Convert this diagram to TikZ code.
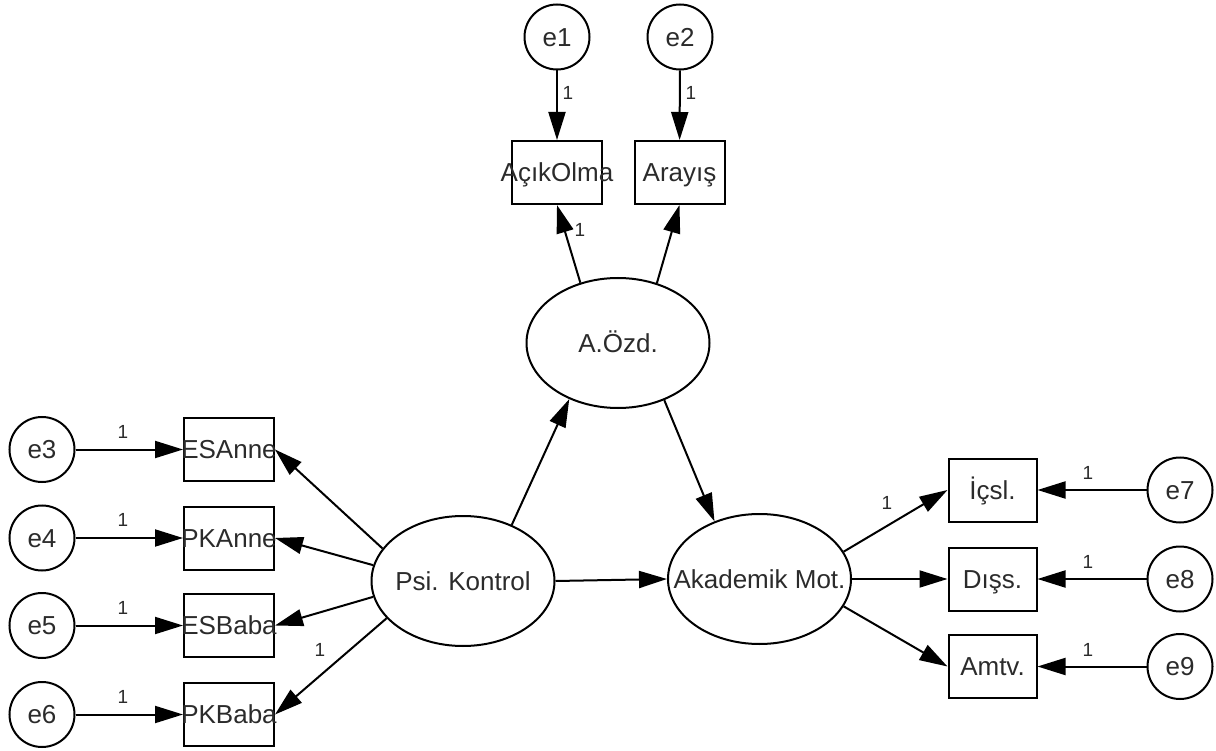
\documentclass[tikz,border=0pt]{standalone}
\usepackage{fontspec}
\setmainfont{Liberation Sans}
\usetikzlibrary{arrows.meta,shapes.geometric}
\definecolor{ink}{HTML}{2B2B2B}
% text that does not widen its node
\newcommand\nowd[1]{\makebox[0pt]{#1}}
\begin{document}
\begin{tikzpicture}[x=1pt,y=-1pt,
  txt/.style={text=ink, font=\fontsize{26}{30}\selectfont, text height=18.6pt, text depth=0pt, inner sep=0pt},
  obs/.style={txt, draw, line width=2pt, minimum width=90pt, minimum height=63pt},
  lat/.style={txt, draw, ellipse, line width=2pt, minimum width=183pt, minimum height=130pt},
  err/.style={txt, draw, circle, line width=2pt, minimum size=65pt},
  link/.style={line width=2pt, -{Triangle[length=28pt,width=17pt]}},
  lbl/.style={text=ink, font=\fontsize{19}{21}\selectfont, inner sep=0pt}
]
\useasboundingbox (0,0) rectangle (1216,751);

% latent variables
\node[lat] (aozd) at (618,343) {\nowd{A.Özd.}};
\node[lat] (psi)  at (463,581) {\nowd{Psi. Kontrol}};
\node[lat] (akad) at (759.5,579) {\nowd{Akademik Mot.}};

% indicators of A.Özd.
\node[obs] (aco) at (557,172.5) {\nowd{AçıkOlma}};
\node[obs] (ara) at (679.5,172.5) {\nowd{Arayış}};
\node[err] (e1) at (557,37) {e1};
\node[err] (e2) at (680,37) {e2};

% indicators of Psi. Kontrol
\node[obs] (esanne) at (229,449.5) {\nowd{ESAnne}};
\node[obs] (pkanne) at (229,538)   {\nowd{PKAnne}};
\node[obs] (esbaba) at (229,625.5) {\nowd{ESBaba}};
\node[obs] (pkbaba) at (229,714.5) {\nowd{PKBaba}};
\node[err] (e3) at (42,449.5) {e3};
\node[err] (e4) at (42,538)   {e4};
\node[err] (e5) at (42,625.5) {e5};
\node[err] (e6) at (42,714.5) {e6};

% indicators of Akademik Mot.
\node[obs, minimum width=88pt] (icsl) at (992.5,490)   {\nowd{İçsl.}};
\node[obs, minimum width=88pt] (diss) at (992.5,579)   {\nowd{Dışs.}};
\node[obs, minimum width=88pt] (amtv) at (992.5,666.5) {\nowd{Amtv.}};
\node[err] (e7) at (1180,490)   {e7};
\node[err] (e8) at (1180,579)   {e8};
\node[err] (e9) at (1180,666.5) {e9};

% structural paths
\draw[link] (psi.49) -- (aozd.229);
\draw[link] (aozd.309.5) -- (akad.128);
\draw[link] (psi.east) -- (akad.west);

% loadings
\draw[link] (aozd.122.8) -- (aco.south);
\draw[link] (aozd.57) -- (ara.south);
\draw[link] (psi.158.8) -- (esanne.east);
\draw[link] (psi.170.5) -- (pkanne.east);
\draw[link] (psi.190) -- (esbaba.east);
\draw[link] (psi.206) -- (pkbaba.east);
\draw[link] (akad.18) -- (icsl.west);
\draw[link] (akad.east) -- (diss.west);
\draw[link] (akad.342.5) -- (amtv.west);

% error terms
\draw[link] (e1) -- (aco);
\draw[link] (e2) -- (ara);
\draw[link] (e3) -- (esanne);
\draw[link] (e4) -- (pkanne);
\draw[link] (e5) -- (esbaba);
\draw[link] (e6) -- (pkbaba);
\draw[link] (e7) -- (icsl);
\draw[link] (e8) -- (diss);
\draw[link] (e9) -- (amtv);

% fixed parameters
\node[lbl] (w1) at (568,93) {1};
\node[lbl] (w2) at (691,93) {1};
\node[lbl] (wa) at (580,230) {1};
\node[lbl] (w3) at (123,432) {1};
\node[lbl] (w4) at (123,520) {1};
\node[lbl] (w5) at (123,608) {1};
\node[lbl] (w6) at (123,697) {1};
\node[lbl] (wp) at (320,650) {1};
\node[lbl] (wk) at (887,503) {1};
\node[lbl] (w7) at (1088,473) {1};
\node[lbl] (w8) at (1088,562) {1};
\node[lbl] (w9) at (1088,650) {1};
\end{tikzpicture}
\end{document}
